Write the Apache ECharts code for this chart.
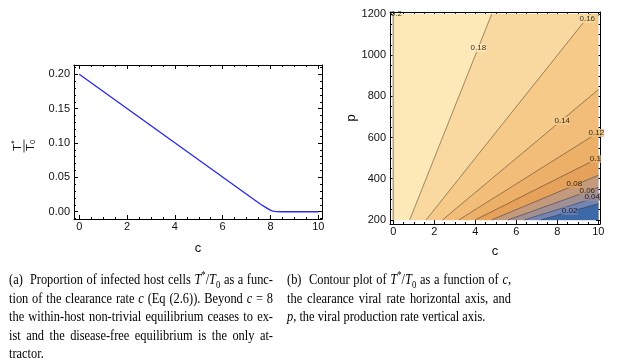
<!DOCTYPE html>
<html>
<head>
<meta charset="utf-8">
<script src="https://cdn.jsdelivr.net/npm/echarts@6/dist/echarts.min.js"></script>
<style>
html,body{margin:0;padding:0;background:#fff;}
#chart{position:absolute;left:0;top:0;width:618px;height:363px;}
.cap{position:absolute;font-family:'Liberation Serif','Times New Roman',serif;font-size:15.5px;line-height:18.6px;color:#000;transform-origin:0 0;}
.cap div{white-space:nowrap;text-align:justify;text-align-last:justify;}
.cap div.last{text-align:left;text-align-last:left;}
.cap sup,.cap sub{font-size:70%;line-height:0;}
</style>
</head>
<body>
<div id="chart"></div>
<div class="cap" style="left:9px;top:270px;width:330px;transform:scaleX(0.8)">
<div>(a)&nbsp; Proportion of infected host cells <i>T</i><sup>*</sup>/<i>T</i><sub>0</sub> as a func-</div>
<div>tion of the clearance rate <i>c</i> (Eq (2.6)). Beyond <i>c</i> = 8</div>
<div>the within-host non-trivial equilibrium ceases to ex-</div>
<div>ist and the disease-free equilibrium is the only at-</div>
<div class="last">tractor.</div>
</div>
<div class="cap" style="left:287px;top:270px;width:280px;transform:scaleX(0.8)">
<div>(b)&nbsp; Contour plot of <i>T</i><sup>*</sup>/<i>T</i><sub>0</sub> as a function of <i>c</i>,</div>
<div>the clearance viral rate horizontal axis, and</div>
<div class="last"><i>p</i>, the viral production rate vertical axis.</div>
</div>
<script>
// (a) T*/T0 against the clearance rate c
const cValues = [0, 7.6, 7.8, 7.9, 8.0, 8.1, 8.25, 8.5, 10];
const ratioValues = [0.2, 0.0105, 0.0062, 0.0042, 0.0022, 0.0009, 0.0002, 0, 0];

const leftMajorX = [0, 2, 4, 6, 8, 10];
const leftMinorX = [0.5, 1, 1.5, 2.5, 3, 3.5, 4.5, 5, 5.5, 6.5, 7, 7.5, 8.5, 9, 9.5];
const leftMajorY = [0, 0.05, 0.1, 0.15, 0.2];
const leftMinorY = [-0.01, 0.01, 0.02, 0.03, 0.04, 0.06, 0.07, 0.08, 0.09, 0.11, 0.12, 0.13, 0.14, 0.16, 0.17, 0.18, 0.19, 0.21];

// (b) contour lines of T*/T0 over (c, p): where each line meets the frame
const levels = [0.2, 0.18, 0.16, 0.14, 0.12, 0.1, 0.08, 0.06, 0.04, 0.02];
const lineStart = [[0, 200], [0.8, 200], [1.6, 200], [2.4, 200], [3.2, 200], [4.0, 200], [4.8, 200], [5.6, 200], [6.4, 200], [7.2, 200]];
const lineEnd = [[0, 1200], [4.8, 1200], [9.6, 1200], [10, 833], [10, 625], [10, 500], [10, 417], [10, 357], [10, 312], [10, 278]];
const labelPos = [[0.15, 1200], [4.15, 1035], [9.46, 1176], [8.24, 680], [9.9, 622], [9.85, 496], [8.83, 375], [9.46, 341], [9.7, 312], [8.6, 244]];
const bandColors = ['#fde9b8', '#f9d9a0', '#f6cb8a', '#f2bd78', '#edb069', '#e6a15a', '#c49a7c', '#a08f95', '#7484b5', '#3d69a8'];

const rightMajorX = [0, 2, 4, 6, 8, 10];
const rightMinorX = [0.5, 1, 1.5, 2.5, 3, 3.5, 4.5, 5, 5.5, 6.5, 7, 7.5, 8.5, 9, 9.5];
const rightMajorY = [200, 400, 600, 800, 1000, 1200];
const rightMinorY = [250, 300, 350, 450, 500, 550, 650, 700, 750, 850, 900, 950, 1050, 1100, 1150];

const FONT = "'Liberation Sans', Arial, sans-serif";
const cMax = 10, pMin = 200, pMax = 1200;

// four axes per side: main (labels), main minor ticks, mirrored frame side, mirrored minor
function frameAxes(grid, dim, range, major, minor, fmt, name, gap) {
    const main = dim === 'x' ? 'bottom' : 'left';
    const other = dim === 'x' ? 'top' : 'right';
    const base = {type: 'value', gridIndex: grid, min: range[0], max: range[1], splitLine: {show: false}};
    const line = {show: true, onZero: false, lineStyle: {color: '#000', width: 1}};
    const noLine = {show: false, onZero: false};
    const tick = (vals, len) => ({show: true, inside: true, length: len, customValues: vals, lineStyle: {color: '#000', width: 1}});
    return [
        Object.assign({}, base, {
            position: main, axisLine: line, axisTick: tick(major, 4),
            axisLabel: {show: true, customValues: major, formatter: fmt, fontSize: 11, color: '#111', fontFamily: FONT, margin: dim === 'x' ? 2 : 4},
            name: name, nameLocation: 'middle', nameGap: gap, nameRotate: dim === 'y' ? 90 : 0,
            nameTextStyle: {fontSize: 13, color: '#111', fontFamily: FONT}
        }),
        Object.assign({}, base, {position: main, axisLine: noLine, axisTick: tick(minor, 2), axisLabel: {show: false}}),
        Object.assign({}, base, {position: other, axisLine: line, axisTick: tick(major, 4), axisLabel: {show: false}}),
        Object.assign({}, base, {position: other, axisLine: noLine, axisTick: tick(minor, 2), axisLabel: {show: false}})
    ];
}

function bandPoints(i) {
    const hiS = lineStart[i], hiE = lineEnd[i];
    const loS = i + 1 < lineStart.length ? lineStart[i + 1] : [cMax, pMin];
    const loE = i + 1 < lineEnd.length ? lineEnd[i + 1] : [cMax, pMin];
    const pts = [hiS, hiE];
    if (hiE[1] === pMax && loE[0] === cMax && loE[1] < pMax) pts.push([cMax, pMax]);
    pts.push(loE, loS);
    return pts;
}

const chart = echarts.init(document.getElementById('chart'), null, {renderer: 'canvas'});
const option = {
    animation: false,
    backgroundColor: '#fff',
    grid: [
        {left: 74, top: 65, width: 248, height: 154, outerBoundsMode: 'none'},
        {left: 390, top: 12, width: 210, height: 212, outerBoundsMode: 'none'}
    ],
    xAxis: [
        ...frameAxes(0, 'x', [-0.22, 10.155], leftMajorX, leftMinorX, null, 'c', 23),
        ...frameAxes(1, 'x', [-0.16, 10.08], rightMajorX, rightMinorX, null, 'c', 21)
    ],
    yAxis: [
        ...frameAxes(0, 'y', [-0.0106, 0.2135], leftMajorY, leftMinorY, v => v.toFixed(2), '', 40),
        ...frameAxes(1, 'y', [180, 1210], rightMajorY, rightMinorY, v => String(v), 'p', 25)
    ],
    series: [
        {
            type: 'line', xAxisIndex: 0, yAxisIndex: 0, silent: true,
            data: cValues.map((c, i) => [c, ratioValues[i]]),
            symbol: 'none', lineStyle: {color: '#2b2bf0', width: 1.4}
        },
        {
            type: 'custom', xAxisIndex: 4, yAxisIndex: 4, silent: true, z: 1,
            data: bandColors.map((c, i) => [i, 500]),
            renderItem: (params, api) => {
                const i = api.value(0);
                return {
                    type: 'polygon',
                    shape: {points: bandPoints(i).map(p => api.coord(p))},
                    style: {fill: bandColors[i], stroke: bandColors[i], lineWidth: 0.5}
                };
            }
        },
        {
            type: 'custom', xAxisIndex: 4, yAxisIndex: 4, silent: true, z: 2,
            data: levels.map((l, i) => [i, 500]),
            renderItem: (params, api) => {
                const i = api.value(0);
                const a = api.coord(lineStart[i]), b = api.coord(lineEnd[i]);
                return {
                    type: 'line',
                    shape: {x1: a[0], y1: a[1], x2: b[0], y2: b[1]},
                    style: i === 0 ? {stroke: '#b3a386', lineWidth: 1.6} : {stroke: 'rgba(40,30,20,0.65)', lineWidth: 0.7}
                };
            }
        },
        {
            type: 'scatter', xAxisIndex: 4, yAxisIndex: 4, silent: true, z: 3,
            symbolSize: 0,
            data: labelPos.map((p, i) => ({
                value: [p[0], p[1], levels[i]],
                label: {backgroundColor: i > 0 ? bandColors[i - 1] : 'transparent'}
            })),
            label: {
                show: true, position: 'inside', formatter: p => String(p.value[2]),
                fontSize: 8, color: '#000', fontFamily: FONT, padding: [0, 0]
            }
        }
    ],
    graphic: [{
        type: 'group', x: 24, y: 146, rotation: Math.PI / 2,
        children: [
            {type: 'text', x: -1.5, y: -6, style: {text: 'T', fontSize: 11.5, fontFamily: FONT, fill: '#111', align: 'center', verticalAlign: 'middle'}},
            {type: 'text', x: 4, y: -9, style: {text: '*', fontSize: 8.5, fontFamily: FONT, fill: '#111', align: 'center', verticalAlign: 'middle'}},
            {type: 'line', shape: {x1: -6.5, y1: 0, x2: 6.5, y2: 0}, style: {stroke: '#111', lineWidth: 0.8}},
            {type: 'text', x: -1.5, y: 6.5, style: {text: 'T', fontSize: 11.5, fontFamily: FONT, fill: '#111', align: 'center', verticalAlign: 'middle'}},
            {type: 'text', x: 4, y: 9, style: {text: '0', fontSize: 7.5, fontFamily: FONT, fill: '#111', align: 'center', verticalAlign: 'middle'}}
        ]
    }]
};
chart.setOption(option);
</script>
</body>
</html>
